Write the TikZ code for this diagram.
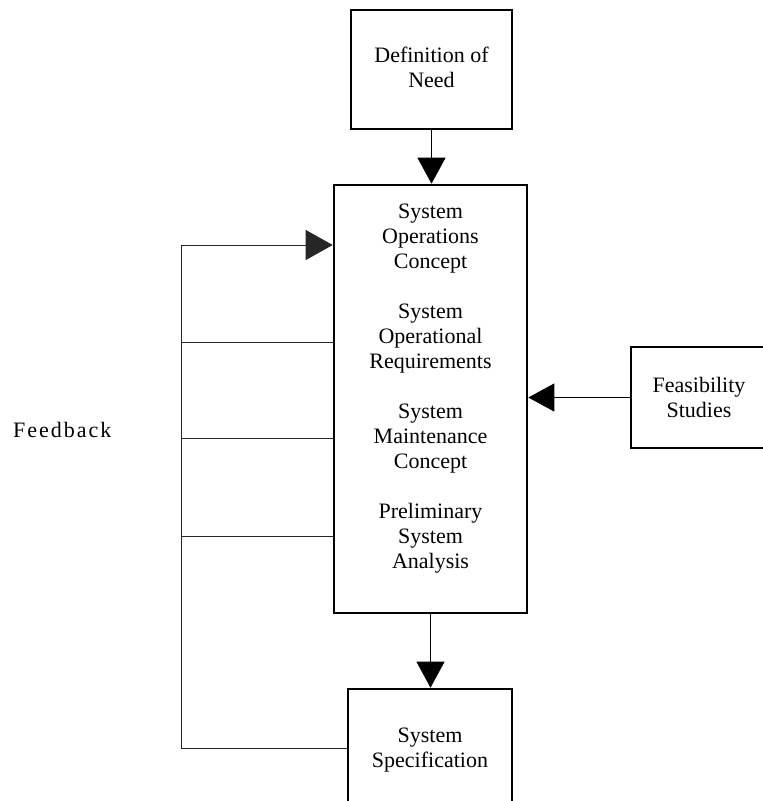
\documentclass[tikz,border=0pt]{standalone}
\usepackage{fontspec}
\setmainfont{Liberation Serif}
\usetikzlibrary{arrows.meta}
\begin{document}
\begin{tikzpicture}[x=1pt,y=-1pt,
  box/.style={draw, line width=2.6pt, inner sep=0pt},
  txt/.style={align=center, font=\fontsize{22}{25}\selectfont, inner sep=0pt, anchor=base},
  flow/.style={line width=0.9pt, -{Triangle[length=26pt,width=28pt]}},
  fb/.style={line width=0.8pt, draw=black!85},
  fbarrow/.style={fb, -{Triangle[length=27pt,width=30pt]}}]
\useasboundingbox (0,0) rectangle (763,801);

% boxes
\node[box, minimum width=161pt, minimum height=119pt] (def) at (431.5,69.5) {};
\node[box, minimum width=193pt, minimum height=428pt] (main) at (430.5,399) {};
\node[box, minimum width=133pt, minimum height=101pt] (feas) at (697.5,397.5) {};
\node[box, minimum width=164pt, minimum height=130pt] (spec) at (430,754) {};

% box texts (each anchored at the baseline of its last line)
\node[txt] (defText) at (431.5,87) {Definition of\\Need};
\node[txt] (mainText) at (430.5,568) {System\\Operations\\Concept\\[25pt]System\\Operational\\Requirements\\[25pt]System\\Maintenance\\Concept\\[25pt]Preliminary\\System\\Analysis};
\node[txt] (feasText) at (699,417) {Feasibility\\Studies};
\node[txt] (specText) at (430,767) {System\\Specification};
\node[txt, anchor=base west] (fbText) at (13,437) {\addfontfeature{LetterSpace=9}Feedback};

% main flow
\draw[flow] (def.south) -- (def.south |- main.north);
\draw[flow] (main.south) -- (main.south |- spec.north);
\draw[flow] (feas.west) -- (feas.west -| main.east);

% feedback loop
\coordinate (fbA) at (181,245);
\coordinate (fbB) at (181,342);
\coordinate (fbC) at (181,438);
\coordinate (fbD) at (181,536);
\coordinate (fbE) at (181,748);
\draw[fb] (fbA) -- (fbE);
\draw[fbarrow] (fbA) -- (fbA -| main.west);
\draw[fb] (fbB) -- (fbB -| main.west);
\draw[fb] (fbC) -- (fbC -| main.west);
\draw[fb] (fbD) -- (fbD -| main.west);
\draw[fb] (fbE) -- (fbE -| spec.west);
\end{tikzpicture}
\end{document}
